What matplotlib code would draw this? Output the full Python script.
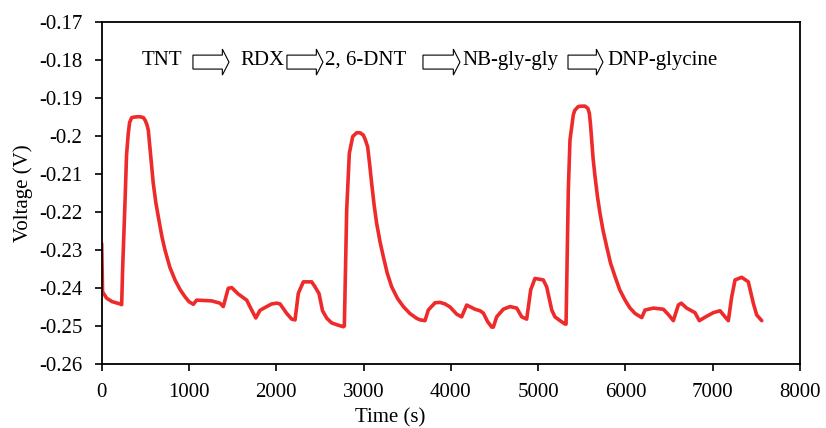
import matplotlib
matplotlib.use("Agg")
import matplotlib.pyplot as plt
from matplotlib.patches import Polygon

plt.rcParams['font.family'] = ['Liberation Serif', 'DejaVu Serif']

time_s = [0, 10, 57, 120, 210, 229, 240, 268, 285, 305, 320, 344, 400, 440, 477, 500, 520,
          534, 560, 591, 620, 649, 690, 725, 780, 840, 900, 954, 1000, 1050, 1088, 1260,
          1355, 1393, 1450, 1489, 1565, 1661, 1718, 1766, 1813, 1890, 1948, 2005, 2043,
          2120, 2177, 2215, 2253, 2310, 2406, 2444, 2490, 2530, 2580, 2635, 2711, 2768,
          2780, 2807, 2837, 2876, 2921, 2960, 2997, 3020, 3047, 3070, 3093, 3120, 3150,
          3190, 3227, 3270, 3322, 3390, 3456, 3530, 3609, 3650, 3704, 3742, 3819, 3876,
          3933, 3990, 4067, 4124, 4182, 4277, 4334, 4372, 4420, 4468, 4487, 4525, 4601,
          4678, 4755, 4812, 4869, 4915, 4964, 5059, 5098, 5156, 5193, 5251, 5308, 5320,
          5346, 5365, 5403, 5420, 5460, 5500, 5537, 5570, 5587, 5600, 5614, 5630, 5652,
          5680, 5709, 5745, 5786, 5830, 5881, 5935, 5996, 6050, 6110, 6187, 6225, 6320,
          6435, 6492, 6549, 6606, 6640, 6702, 6797, 6847, 6912, 7007, 7084, 7141, 7179,
          7218, 7256, 7332, 7408, 7465, 7504, 7562]
voltage = [-0.2283, -0.2410, -0.2427, -0.2436, -0.2442, -0.2444, -0.2350, -0.2169, -0.2050,
           -0.1993, -0.1965, -0.1952, -0.1950, -0.1950, -0.1952, -0.1960, -0.1972, -0.1985,
           -0.2050, -0.2125, -0.2175, -0.2213, -0.2265, -0.2300, -0.2345, -0.2379, -0.2405,
           -0.2423, -0.2436, -0.2443, -0.2432, -0.2434, -0.2440, -0.2449, -0.2401, -0.2399,
           -0.2416, -0.2432, -0.2458, -0.2479, -0.2459, -0.2449, -0.2442, -0.2440, -0.2442,
           -0.2467, -0.2482, -0.2484, -0.2414, -0.2384, -0.2384, -0.2397, -0.2415, -0.2460,
           -0.2480, -0.2492, -0.2498, -0.2502, -0.2500, -0.2195, -0.2046, -0.2002, -0.1992,
           -0.1992, -0.1998, -0.2010, -0.2029, -0.2075, -0.2125, -0.2180, -0.2230, -0.2280,
           -0.2318, -0.2360, -0.2397, -0.2428, -0.2449, -0.2467, -0.2480, -0.2484, -0.2486,
           -0.2458, -0.2439, -0.2438, -0.2442, -0.2450, -0.2469, -0.2476, -0.2445, -0.2456,
           -0.2460, -0.2466, -0.2488, -0.2503, -0.2503, -0.2476, -0.2456, -0.2449, -0.2453,
           -0.2476, -0.2482, -0.2405, -0.2375, -0.2379, -0.2397, -0.2458, -0.2476, -0.2486,
           -0.2495, -0.2495, -0.2142, -0.2011, -0.1945, -0.1933, -0.1923, -0.1922, -0.1922,
           -0.1928, -0.1941, -0.1970, -0.2011, -0.2060, -0.2107, -0.2160, -0.2204, -0.2250,
           -0.2292, -0.2335, -0.2370, -0.2405, -0.2432, -0.2452, -0.2467, -0.2478, -0.2458,
           -0.2453, -0.2456, -0.2470, -0.2486, -0.2445, -0.2440, -0.2453, -0.2465, -0.2486,
           -0.2477, -0.2465, -0.2460, -0.2476, -0.2486, -0.2423, -0.2379, -0.2372, -0.2384,
           -0.2440, -0.2471, -0.2486]

x_ticks = [0, 1000, 2000, 3000, 4000, 5000, 6000, 7000, 8000]
y_ticks = [-0.26, -0.25, -0.24, -0.23, -0.22, -0.21, -0.2, -0.19, -0.18, -0.17]
y_tick_labels = ['-0.26', '-0.25', '-0.24', '-0.23', '-0.22', '-0.21', '-0.2', '-0.19', '-0.18', '-0.17']
sequence_labels = ['TNT', 'RDX', '2, 6-DNT', 'NB-gly-gly', 'DNP-glycine']

fig = plt.figure(figsize=(8.26, 4.28), dpi=100)
ax = fig.add_axes([0.1231, 0.1495, 0.8454, 0.7998])

ax.plot(time_s, voltage, color='#EE2A2A', lw=2.6, solid_joinstyle='round', solid_capstyle='round')

ax.set_xlim(0, 8000)
ax.set_ylim(-0.26, -0.17)
ax.set_xticks(x_ticks)
ax.set_yticks(y_ticks)
ax.set_yticklabels(y_tick_labels)
ax.tick_params(axis='both', labelsize=15, direction='out', length=5, width=1.2, pad=9, colors='black')
ax.tick_params(axis='x', top=False)
ax.tick_params(axis='y', right=False)
for sp in ax.spines.values():
    sp.set_linewidth(1.3)
    sp.set_color('black')

ax.set_xlabel('Time (s)', fontsize=15, labelpad=2)
ax.xaxis.set_label_coords(0.413, -0.13)
ax.set_ylabel('Voltage (V)', fontsize=15, labelpad=4)

# sequence annotation
text_x = [0.0579, 0.198, 0.3197, 0.516, 0.7236]
arrow_x = [(0.1307, 0.1823), (0.2653, 0.3169), (0.4601, 0.5131), (0.6678, 0.7179)]
yb = 0.8735
for xt, lab in zip(text_x, sequence_labels):
    ax.text(xt, yb, lab, transform=ax.transAxes, fontsize=15, ha='left', va='baseline')
yc, bh, hh, hl = 0.882, 0.0204, 0.038, 0.0095
for x0, x1 in arrow_x:
    pts = [(x0, yc - bh), (x1 - hl, yc - bh), (x1 - hl, yc - hh), (x1, yc),
           (x1 - hl, yc + hh), (x1 - hl, yc + bh), (x0, yc + bh)]
    ax.add_patch(Polygon(pts, closed=True, transform=ax.transAxes, facecolor='white',
                         edgecolor='black', lw=0.8))

fig.savefig('out.png', dpi=100)
